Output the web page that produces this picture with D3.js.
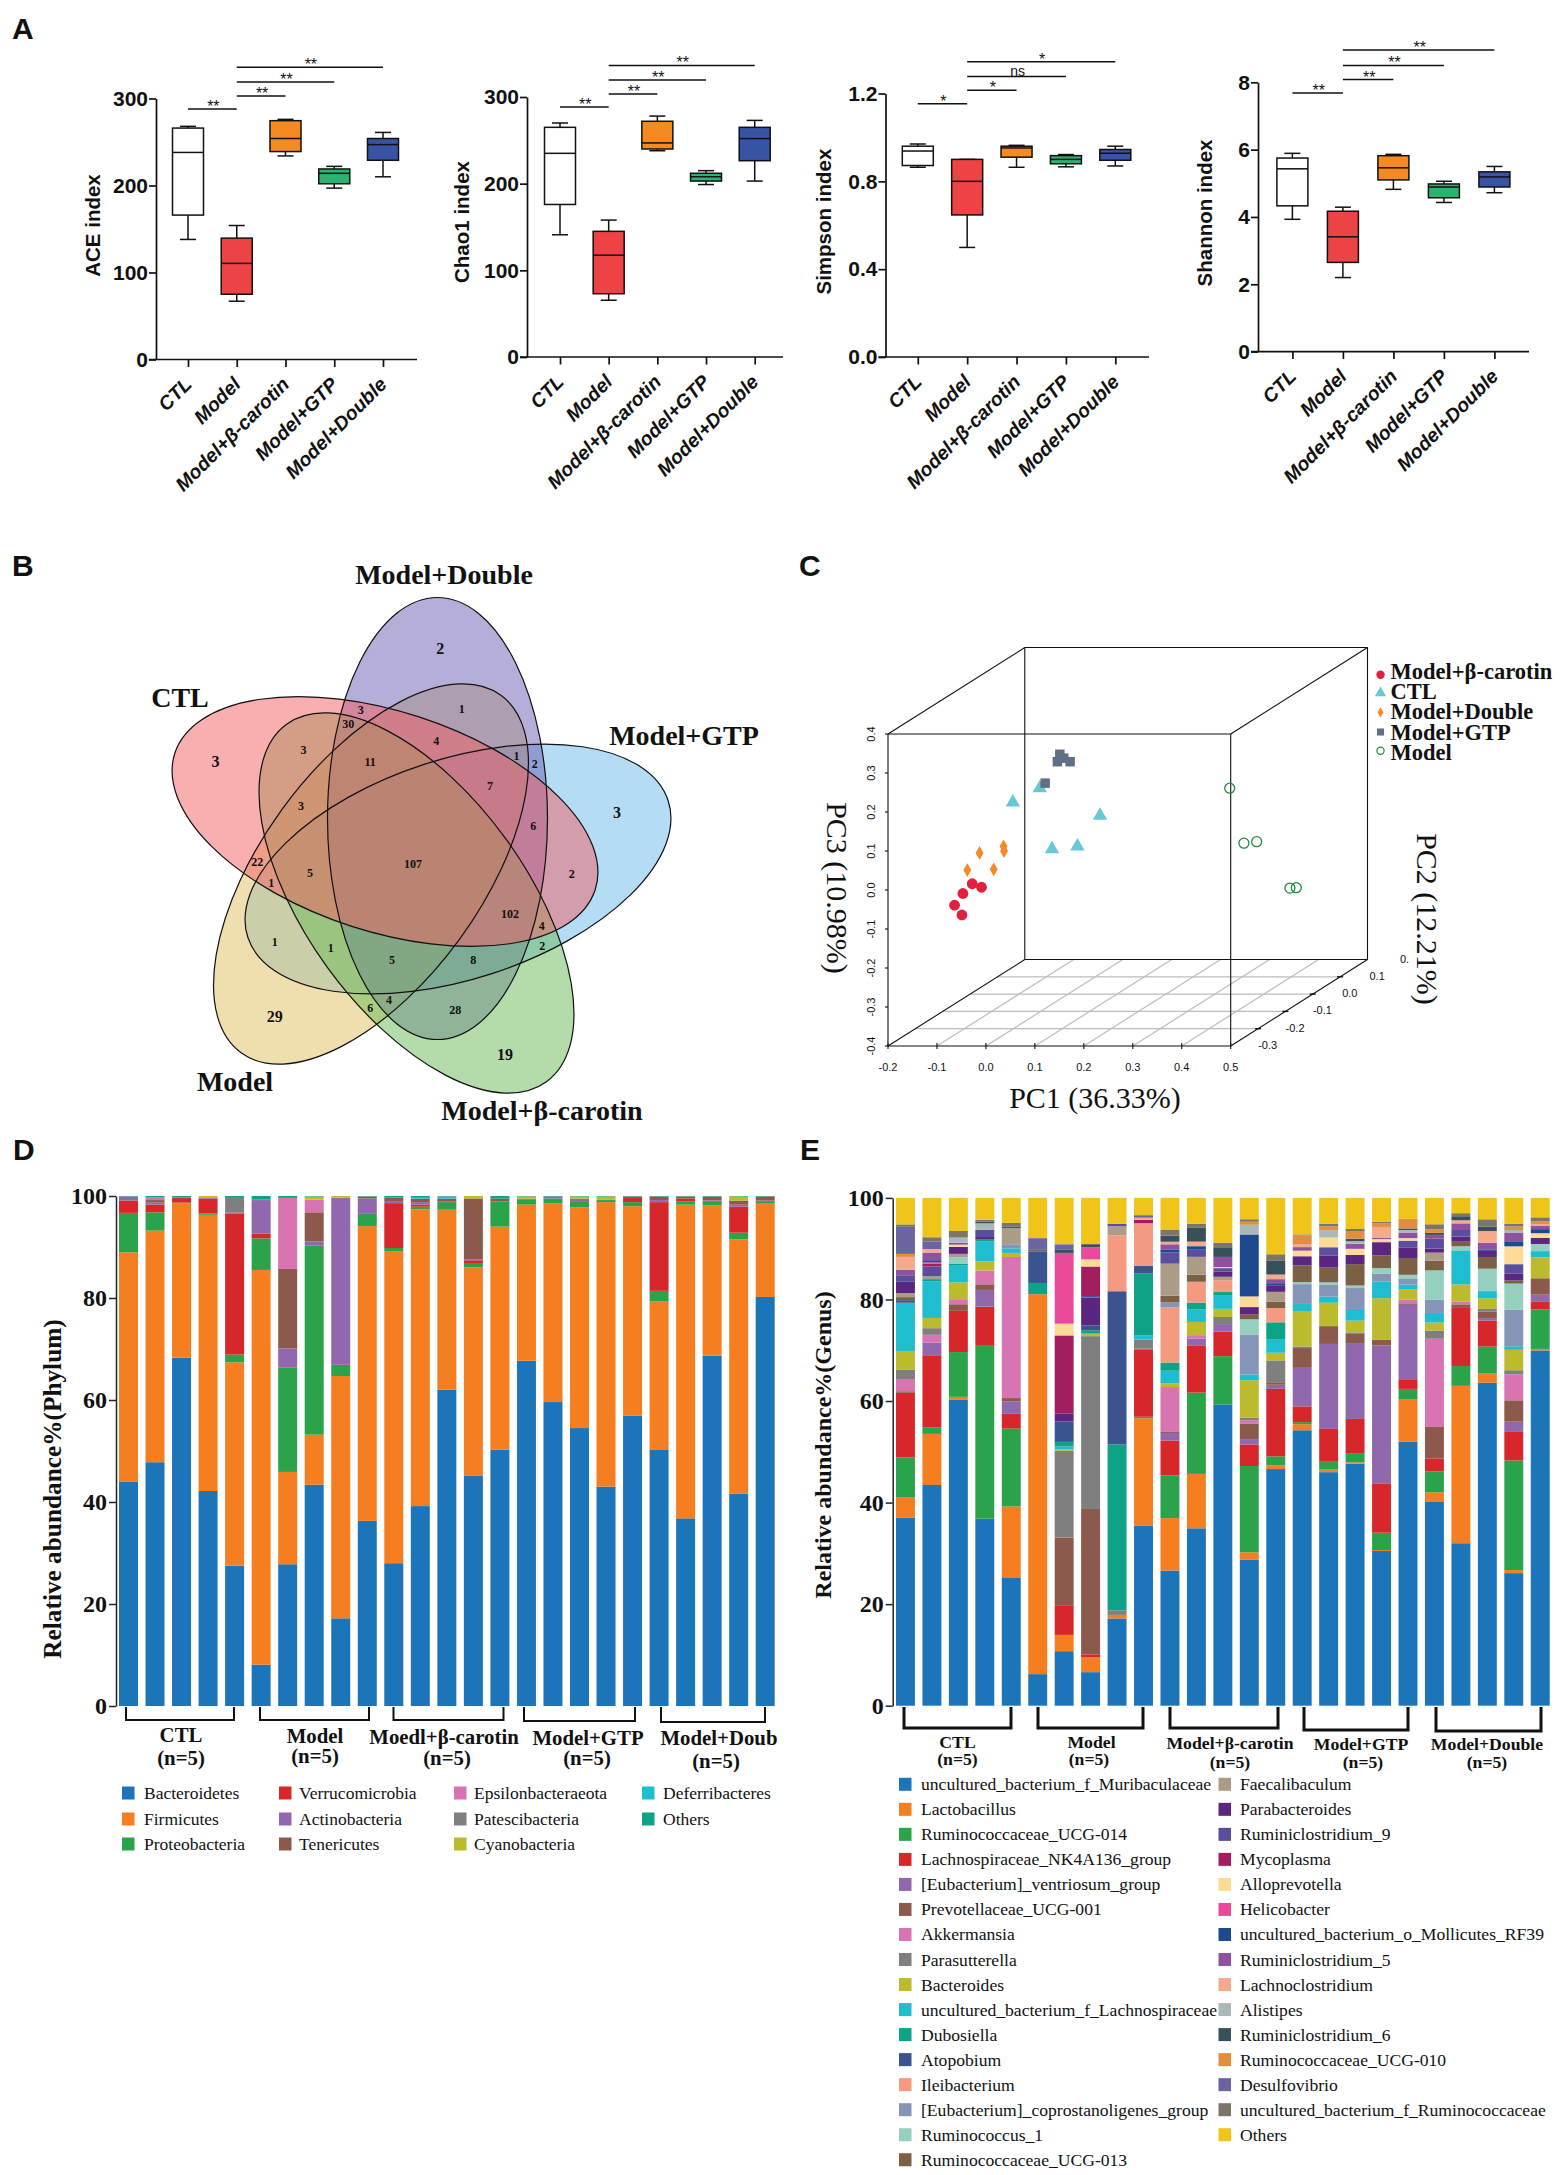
<!DOCTYPE html>
<html><head><meta charset="utf-8">
<script src="https://cdn.jsdelivr.net/npm/d3@7"></script>
<style>
html,body{margin:0;padding:0;background:#fff}
svg{display:block}
text{fill:#111}
</style></head><body>
<svg id="fig" width="1562" height="2175" xmlns="http://www.w3.org/2000/svg"></svg>
<script>
/* ---------- DATA ---------- */
const groups=["CTL","Model","Model+β-carotin","Model+GTP","Model+Double"];
// five-number summaries per group: [min,q1,median,q3,max]
const aceIndex=[[138,166,238,266,268],[67,75,110.5,139.5,154],[234,239,254,274.5,276],[197,202,214,219,222],[210,229,247,254,261]];
const chao1Index=[[141,176,235,265,270],[65.5,73,117.5,145,158],[238,240,247,272,278],[199,203,208,212,215],[203,226.5,252,265,273]];
const simpsonIndex=[[.864,.872,.938,.96,.97],[.499,.647,.80,.90,.90],[.864,.91,.952,.96,.964],[.866,.88,.90,.917,.922],[.87,.896,.928,.945,.96]];
const shannonIndex=[[3.93,4.33,5.43,5.75,5.89],[2.2,2.65,3.41,4.17,4.29],[4.82,5.1,5.46,5.82,5.86],[4.43,4.57,4.89,4.98,5.06],[4.72,4.89,5.19,5.34,5.5]];
const aceTicks=[0,100,200,300], chao1Ticks=[0,100,200,300], simpsonTicks=[0,.4,.8,1.2], shannonTicks=[0,2,4,6,8];
// significance bars: [from group, to group, height in axis units, mark]
const aceSig=[[0,1,288,"**"],[1,2,303,"**"],[1,3,319,"**"],[1,4,336,"**"]];
const chao1Sig=[[0,1,288.5,"**"],[1,2,303.5,"**"],[1,3,319.5,"**"],[1,4,336.4,"**"]];
const simpsonSig=[[0,1,1.153,"*"],[1,2,1.215,"*"],[1,3,1.277,"ns"],[1,4,1.345,"*"]];
const shannonSig=[[0,1,7.68,"**"],[1,2,8.08,"**"],[1,3,8.5,"**"],[1,4,8.96,"**"]];

const vennSets=["CTL","Model+Double","Model+GTP","Model+β-carotin","Model"];
const vennCounts=["2","1","3","30","3","3","4","11","1","2","7","3","3","6","107","22","5","1","2","102","4","2","1","1","5","8","4","6","28","29","19"];

const pcaBetaX=[-.064,-.047,-.049,-.028,-.009], pcaBetaZ=[-.039,-.009,-.064,.016,.007];
const pcaCtlX=[.055,.11,.233,.135,.187], pcaCtlZ=[.225,.261,.191,.105,.112];
const pcaDoubleX=[-.038,-.013,.016,.036,.037], pcaDoubleZ=[.051,.095,.053,.112,.10];
const pcaGtpX=[.121,.146,.151,.159,.172], pcaGtpZ=[.274,.329,.348,.338,.329];
const pcaModelX=[.498,.527,.553,.621,.634], pcaModelZ=[.261,.12,.124,.005,.006];
const pc1Ticks=[-.2,-.1,0,.1,.2,.3,.4,.5], pc3Ticks=[-.4,-.3,-.2,-.1,0,.1,.2,.3,.4], pc2Ticks=[-.3,-.2,-.1,0,.1,.2];

const phyla=["Bacteroidetes","Firmicutes","Proteobacteria","Verrucomicrobia","Actinobacteria","Tenericutes","Epsilonbacteraeota","Patescibacteria","Cyanobacteria","Deferribacteres","Others"];
const phylumCTL=[
[43.9,44.8,7.7,2.4,.7,.1,0,0,0,0,.1],
[47.8,45.4,3.6,1.5,.4,.5,.5,0,0,0,.3],
[68.3,30.3,.1,.9,.1,.1,0,0,0,0,.2],
[42.2,54.2,.3,2.9,.1,.1,0,0,.3,0,0],
[27.5,39.9,1.5,27.7,.1,.1,0,3.0,0,0,.2]];
const phylumModel=[
[8.1,77.4,6.2,.9,6.6,.1,0,0,0,0,.7],
[27.8,18.1,20.4,.1,3.7,15.6,13.9,.2,0,0,.2],
[43.4,9.8,37,.1,.8,5.7,2.5,0,.6,0,.1],
[17.2,47.5,2.2,0,32.7,0,.1,0,.3,0,0],
[36.3,57.8,2.4,0,3,.4,0,0,0,0,.1]];
const phylumBeta=[
[28,61.2,.6,8.8,.4,.7,0,0,0,0,.3],
[39.2,58.2,.5,.4,.5,.7,0,0,0,.3,.2],
[62,35.3,1.5,.1,0,.6,0,0,0,.4,.1],
[45.2,40.8,.7,.7,.2,11.9,0,0,.5,0,0],
[50.2,43.7,4.9,.1,0,.5,0,0,0,0,.5]];
const phylumGTP=[
[67.7,30.6,1,0,0,.2,0,0,.4,0,.1],
[59.6,39,.9,0,.3,.1,0,0,0,0,.1],
[54.5,43.3,1.2,0,.5,0,0,0,.4,0,.1],
[43,55.8,.4,0,0,.1,0,0,.6,0,.1],
[56.9,41.1,.8,.8,0,.3,0,0,0,0,.1]];
const phylumDouble=[
[50.2,29.1,2.1,17.4,.4,.7,0,0,0,0,.1],
[36.8,61.5,.6,.6,0,.4,0,0,0,0,.1],
[68.7,29.5,.8,.1,.1,.7,0,0,0,0,.1],
[41.6,49.9,1.3,5.1,.4,.8,0,0,.8,0,.1],
[80.2,18.3,.5,0,.1,.8,0,0,0,0,.1]];

const genera=["uncultured_bacterium_f_Muribaculaceae","Lactobacillus","Ruminococcaceae_UCG-014","Lachnospiraceae_NK4A136_group","[Eubacterium]_ventriosum_group","Prevotellaceae_UCG-001","Akkermansia","Parasutterella","Bacteroides","uncultured_bacterium_f_Lachnospiraceae","Dubosiella","Atopobium","Ileibacterium","[Eubacterium]_coprostanoligenes_group","Ruminococcus_1","Ruminococcaceae_UCG-013","Faecalibaculum","Parabacteroides","Ruminiclostridium_9","Mycoplasma","Alloprevotella","Helicobacter","uncultured_bacterium_o_Mollicutes_RF39","Ruminiclostridium_5","Lachnoclostridium","Alistipes","Ruminiclostridium_6","Ruminococcaceae_UCG-010","Desulfovibrio","uncultured_bacterium_f_Ruminococcaceae","Others"];
const genusCTL=[
[37,3.9,7.9,12.7,0,.3,2.4,1.8,3.7,9.5,0,.5,0,0,0,.6,.8,2.2,1.3,0,0,0,0,1.1,2.5,0,0,.6,5.3,.5,5.2],
[43.2,10,1.3,14.1,2.5,0,1.5,1.3,2,7.2,.4,0,0,0,0,0,.6,0,1.9,.5,0,.3,.4,1.5,.7,0,0,0,1.5,.8,7.7],
[60.1,.6,8.8,8.1,0,1.3,1,0,3.3,3.4,.3,0,0,0,1.2,0,.7,1.4,0,0,.4,0,0,.4,0,1,0,0,0,1.3,6.5],
[36.8,0,34,7.7,3.3,1.1,2.7,0,1.8,3.9,.4,0,0,0,0,0,0,.5,1.4,0,0,0,0,0,0,1.3,.3,0,0,.4,4.3],
[25.2,13.9,15.3,2.9,2.4,.7,27.7,0,.8,.9,0,0,0,.8,0,0,3.2,0,0,0,0,0,0,0,0,0,.3,0,0,.7,4.9]];
const genusModel=[
[6.2,74.6,0,0,0,0,0,0,0,0,2.2,6.2,0,0,0,.3,0,0,0,0,0,0,0,0,0,0,0,0,2.3,0,7.9],
[10.7,3.2,0,5.7,0,13.4,0,17.1,.2,.6,.9,4,0,0,0,0,0,1.6,0,15.3,2.3,13.9,0,0,0,0,.7,0,1,0,9.1],
[6.6,2.9,0,.6,0,28.6,0,34,.5,0,.6,1,0,0,0,0,0,5.5,.3,5.8,1.4,2.4,0,0,0,0,.6,0,0,0,9.1],
[17.2,.7,0,0,0,0,0,.9,0,0,32.7,30.2,11,0,0,0,1.8,0,.5,0,0,0,0,0,0,0,0,0,0,0,5.1],
[35.4,21.2,.3,13.2,0,.2,0,1.8,0,.8,12.2,1.5,8.4,0,0,0,0,0,0,.7,0,0,0,0,.4,0,0,0,.5,0,3.4]];
const genusBeta=[
[26.5,10.3,8.4,6.8,1.5,.3,8.7,0,.7,2.5,1.6,0,10.8,1,0,1.3,6.3,0,2.2,0,0,0,.6,1,.5,0,1.2,0,0,1.2,6.2],
[34.9,10.7,16,9.3,1.3,0,.7,0,2.6,2.5,1.3,0,4.1,0,0,1.4,3.5,0,1.4,0,0,0,.7,0,.9,0,2.8,0,0,.7,5.1],
[59.2,0,9.5,4.8,1.5,0,0,1.4,1.6,2.7,.6,0,2.3,0,0,0,.7,1,.7,0,.2,0,0,2,0,0,1.9,0,0,.9,8.8],
[28.8,1.4,17,4.2,1.1,3,.7,.5,7.4,1.1,0,0,0,7.9,3,1,0,1.4,0,0,2.1,0,12.2,0,0,1.9,0,.6,0,.5,4.2],
[46.6,.7,1.8,13.3,.8,.5,0,4.3,1.5,2.7,3.3,0,2.8,0,0,1.3,1.9,1.2,0,0,0,0,.5,.8,.9,0,2.7,0,0,1.3,11.1]];
const genusGTP=[
[54.3,1.2,.4,3.1,7.6,3.9,0,.3,7,1.4,0,0,0,3.9,.4,3.3,0,1.8,0,0,1.1,0,0,.7,.5,0,0,1.8,0,.2,7.2],
[45.9,.5,1.7,6.3,16.7,3.5,0,0,4.6,1.2,0,0,0,2.3,.5,2.9,0,2.4,1.6,0,1.9,0,0,0,0,1.5,0,.7,0,.5,5.1],
[47.5,.3,1.8,6.7,14.9,1.8,0,.3,2.3,2.3,0,0,0,4.1,.5,4.2,0,1.8,0,0,1.2,0,0,1,0,.5,.5,1.4,0,.5,6.1],
[30.4,.2,3.4,9.7,27.1,1.1,0,0,8.2,3.3,0,0,0,1.5,1.1,2.5,0,2.6,0,0,.6,0,0,.3,1.9,.2,0,.7,0,.3,4.7],
[51.8,8.3,2.1,1.9,14.6,.3,.7,0,2.1,.9,0,0,0,1.2,.7,3.3,0,2,1.4,0,.5,0,0,1.1,0,.5,.3,1.9,0,0,4.1]];
const genusDouble=[
[40.2,1.9,4.1,2.6,0,6.2,17.4,1.6,1.6,1.9,0,0,0,2.6,5.8,1.9,1.6,.8,2,0,0,0,0,.7,0,0,.4,.7,0,1,5.2],
[31.9,30.9,3.9,11.4,0,.7,.5,0,3.4,6.7,0,0,0,0,.8,.9,0,1,1.3,0,0,0,0,1.3,.6,0,.8,0,0,.6,3],
[63.4,1.8,5.3,5.1,.5,1.3,0,.5,2.1,1.4,0,0,0,0,4.4,2.3,0,1.2,0,0,0,0,.3,1.3,2.3,0,.9,0,0,1.4,4.2],
[26,.6,21.5,5.6,2,4.2,5.1,.8,4,.7,0,0,0,7.2,5.1,.6,0,1.4,1.8,0,3.5,0,1,1.7,0,.5,0,.7,0,.5,5.1],
[69.4,.3,7.7,1.6,1.3,3.2,0,0,4.1,1.2,0,0,0,0,1.4,0,0,1.2,0,0,.9,0,.8,.7,.3,0,0,.5,0,.8,3.8]];
const stackTicks=[0,.2,.4,.6,.8,1];
const phylumGroupLabels=["CTL","Model","Moedl+β-carotin","Model+GTP","Model+Doub"];
const genusGroupLabels=["CTL","Model","Model+β-carotin","Model+GTP","Model+Double"];

/* ---------- STYLES ---------- */
const SANS="'Liberation Sans',Arial,sans-serif", SERIF="'Liberation Serif','Times New Roman',serif";
const boxColors=["#ffffff","#ee4344","#f68a22","#2db272","#3953a4"];
const phylumColors=["#1c75b8","#f57f20","#2ba34a","#d8272b","#9167ad","#8b5a4c","#d874b2","#7f7f7f","#bcbb2e","#1fbdd0","#0ea287"];
const genusColors=["#1c75b8","#f57f20","#2ba34a","#d8272b","#9167ad","#8b5a4c","#d874b2","#7f7f7f","#bcbb2e","#1fbdd0","#0ea287","#3a5490","#f39a80","#8694b8","#94cfbf","#7c6045","#ac9c87","#5a2680","#5b4e9e","#a21e5e","#fcdc94","#e94b9a","#1c4a8e","#8f52a0","#f5a98e","#aab8b8","#37505a","#e38e3f","#6a64a0","#7d7668","#f0c419"];
const svg=d3.select("#fig");
function label(g,x,y,t,o={}){
  const e=g.append("text").attr("x",x).attr("y",y).text(t)
   .attr("font-family",o.family||SERIF).attr("font-size",o.size||16)
   .attr("font-weight",o.weight||"normal").attr("font-style",o.style||"normal")
   .attr("text-anchor",o.anchor||"middle").attr("dominant-baseline",o.base||"central");
  if(o.rotate!==undefined) e.attr("transform",`rotate(${o.rotate},${x},${y})`);
  return e;
}
[["A",12,28],["B",12,565],["C",799,565],["D",13,1149],["E",800,1149]].forEach(d=>
  label(svg,d[1],d[2],d[0],{family:SANS,size:30,weight:"bold",anchor:"start"}));

/* ---------- PANEL A ---------- */
const boxPanels=[
 {stats:aceIndex,ticks:aceTicks,sig:aceSig,title:"ACE index",fmt:d3.format("d"),ax:156,y0:359.5,y1:98.5,t0:188,t1:383,xl:148.8,xr:417,tx:92,ty:225.5},
 {stats:chao1Index,ticks:chao1Ticks,sig:chao1Sig,title:"Chao1 index",fmt:d3.format("d"),ax:527,y0:357,y1:97,t0:560,t1:754.7,xl:520,xr:783,tx:461,ty:222},
 {stats:simpsonIndex,ticks:simpsonTicks,sig:simpsonSig,title:"Simpson index",fmt:d3.format(".1f"),ax:885.5,y0:357,y1:93.5,t0:917.8,t1:1115.3,xl:878.5,xr:1149,tx:824,ty:221.6},
 {stats:shannonIndex,ticks:shannonTicks,sig:shannonSig,title:"Shannon index",fmt:d3.format("d"),ax:1258,y0:351.6,y1:82.3,t0:1292.4,t1:1494.4,xl:1251,xr:1529,tx:1204,ty:213}
];
boxPanels.forEach(p=>{
  const g=svg.append("g");
  const y=d3.scaleLinear().domain(d3.extent(p.ticks)).range([p.y0,p.y1]);
  const x=d3.scalePoint().domain(groups).range([p.t0,p.t1]);
  const ya=g.append("g").attr("transform",`translate(${p.ax},0)`).call(d3.axisLeft(y).tickValues(p.ticks).tickFormat(p.fmt).tickSize(7).tickSizeOuter(0));
  ya.selectAll("path,line").attr("stroke","#111").attr("stroke-width",1.7);
  ya.selectAll("text").attr("font-family",SANS).attr("font-size",21).attr("font-weight","bold").attr("fill","#111").attr("x",-8);
  const xa=g.append("g").attr("transform",`translate(0,${p.y0})`).call(d3.axisBottom(x).tickSize(7.5).tickSizeOuter(0));
  xa.select("path").remove();
  xa.selectAll("line").attr("stroke","#111").attr("stroke-width",1.7);
  xa.selectAll("text").attr("font-family",SANS).attr("font-size",19.5).attr("font-weight","bold").attr("font-style","italic").attr("fill","#111")
    .attr("text-anchor","end").attr("x",0).attr("y",0).attr("dy",0).attr("transform","translate(4.5,26) rotate(-45)");
  g.append("line").attr("x1",p.xl).attr("x2",p.xr).attr("y1",p.y0).attr("y2",p.y0).attr("stroke","#111").attr("stroke-width",1.7);
  label(g,p.tx,p.ty,p.title,{family:SANS,size:20.5,weight:"bold",rotate:-90});
  const bw=31;
  const b=g.selectAll("g.box").data(p.stats).join("g").attr("class","box").attr("transform",(d,i)=>`translate(${x(groups[i])},0)`);
  b.append("line").attr("y1",d=>y(d[0])).attr("y2",d=>y(d[4])).attr("stroke","#111").attr("stroke-width",1.5);
  [0,4].forEach(k=>b.append("line").attr("x1",-8).attr("x2",8).attr("y1",d=>y(d[k])).attr("y2",d=>y(d[k])).attr("stroke","#111").attr("stroke-width",1.5));
  b.append("rect").attr("x",-bw/2).attr("width",bw).attr("y",d=>y(d[3])).attr("height",d=>y(d[1])-y(d[3]))
    .attr("fill",(d,i)=>boxColors[i]).attr("stroke","#111").attr("stroke-width",1.5);
  b.append("line").attr("x1",-bw/2).attr("x2",bw/2).attr("y1",d=>y(d[2])).attr("y2",d=>y(d[2])).attr("stroke","#111").attr("stroke-width",1.5);
  p.sig.forEach(s=>{
    const xa0=x(groups[s[0]]),xb=x(groups[s[1]]),yy=y(s[2]);
    g.append("line").attr("x1",xa0).attr("x2",xb).attr("y1",yy).attr("y2",yy).attr("stroke","#111").attr("stroke-width",1.5);
    const ns=s[3]==="ns";
    label(g,(xa0+xb)/2+1,yy+(ns?-6:3),s[3],{family:SANS,size:ns?14:16,base:ns?"central":"auto"});
  });
});

/* ---------- PANEL B ---------- */
const vennShapes=[ // cx,cy,rotation,fill — painted in this order
 {cx:458,cy:869,r:-18,fill:"#6bb9eb"},
 {cx:371,cy:874,r:-54,fill:"#dfbf5d"},
 {cx:437.5,cy:818.5,r:90,fill:"#6b5db4"},
 {cx:416.5,cy:903,r:54,fill:"#69b957"},
 {cx:385,cy:821.5,r:18,fill:"#f35d61"}
];
const vennG=svg.append("g");
vennG.selectAll("ellipse.f").data(vennShapes).join("ellipse").attr("class","f")
  .attr("cx",d=>d.cx).attr("cy",d=>d.cy).attr("rx",221).attr("ry",110)
  .attr("transform",d=>`rotate(${d.r},${d.cx},${d.cy})`)
  .attr("fill",d=>d.fill).attr("fill-opacity",.5);
vennG.selectAll("ellipse.o").data(vennShapes).join("ellipse").attr("class","o")
  .attr("cx",d=>d.cx).attr("cy",d=>d.cy).attr("rx",221).attr("ry",110)
  .attr("transform",d=>`rotate(${d.r},${d.cx},${d.cy})`)
  .attr("fill","none").attr("stroke","#111").attr("stroke-width",1.2);
const vennSpots=[[885,288,1],[928,450],[725,452],[700,490],[610,557],[433,590,1],[877,535],[744,590],[1038,575],[1075,595],[985,655],[605,707],[1240,723,1],[1072,760],[830,860],[517,856],[623,884],[545,911],[1149,887],[1025,993],[1089,1025],[1090,1078],[552,1069],[665,1084],[788,1116],[951,1116],[782,1224],[744,1243],[915,1250],[552,1267,1],[1015,1367,1]];
vennSpots.forEach((s,i)=>label(vennG,s[0]/2.01,540+s[1]/2.658,vennCounts[i],{size:s[2]?16:12,weight:"bold"}));
const vennLabelSpots=[[180,697],[444,574.6],[684,735.6],[542,1110.7],[235,1081]];
vennSets.forEach((t,i)=>label(vennG,vennLabelSpots[i][0],vennLabelSpots[i][1],t,{size:28,weight:"bold"}));

/* ---------- PANEL C ---------- */
const cG=svg.append("g");
const sx=d3.scaleLinear().domain([-.2,.5]).range([888,1230.7]);
const sz=d3.scaleLinear().domain([-.4,.4]).range([1046,734]);
const sd=d3.scaleLinear().domain([-.3,.2]).range([0,1]);
const DX=136.8,DY=86.5;
const P=(a,b,c)=>[sx(a)+sd(b)*DX,sz(c)-sd(b)*DY];
const seg=(p,q,col,w)=>cG.append("line").attr("x1",p[0]).attr("y1",p[1]).attr("x2",q[0]).attr("y2",q[1]).attr("stroke",col).attr("stroke-width",w);
pc2Ticks.slice(1,-1).forEach(v=>seg(P(-.2,v,-.4),P(.5,v,-.4),"#bdbdbd",1.2));
pc1Ticks.slice(1,-1).forEach(v=>seg(P(v,-.3,-.4),P(v,.2,-.4),"#bdbdbd",1.2));
[[-.2,-.3,.4,.5,-.3,.4],[.5,-.3,.4,.5,-.3,-.4],[.5,-.3,-.4,-.2,-.3,-.4],[-.2,-.3,-.4,-.2,-.3,.4],
 [-.2,.2,.4,.5,.2,.4],[.5,.2,.4,.5,.2,-.4],[.5,.2,-.4,-.2,.2,-.4],[-.2,.2,-.4,-.2,.2,.4],
 [-.2,-.3,.4,-.2,.2,.4],[.5,-.3,.4,.5,.2,.4],[.5,-.3,-.4,.5,.2,-.4],[-.2,-.3,-.4,-.2,.2,-.4]]
 .forEach(d=>seg(P(d[0],d[1],d[2]),P(d[3],d[4],d[5]),"#111",1.1));
pc1Ticks.forEach(v=>{
  const p=P(v,-.3,-.4);
  seg([p[0],p[1]-3],[p[0],p[1]+3],"#111",1.1);
  label(cG,p[0],1066.7,v.toFixed(1),{family:SANS,size:11});
});
pc3Ticks.forEach(v=>{
  const p=P(-.2,-.3,v);
  seg([p[0]-3,p[1]],[p[0],p[1]],"#111",1.1);
  label(cG,871,p[1],v.toFixed(1),{family:SANS,size:11,rotate:-90});
});
pc2Ticks.forEach(v=>{
  const p=P(.5,v,-.4);
  if(v>-.3&&v<.2) seg([p[0]-3,p[1]],[p[0]+3,p[1]],"#111",1.4);
  label(cG,p[0]+37,p[1]-1,v===.2?"0.":v.toFixed(1),{family:SANS,size:11});
});
const pts=(xs,zs)=>xs.map((v,i)=>P(v,-.3,zs[i]));
cG.append("g").selectAll("circle").data(pts(pcaBetaX,pcaBetaZ)).join("circle").attr("cx",d=>d[0]).attr("cy",d=>d[1]).attr("r",5.4).attr("fill","#e0203c");
const sym=(type,size,data,col)=>cG.append("g").selectAll("path").data(data).join("path").attr("d",d3.symbol().type(type).size(size)).attr("transform",d=>`translate(${d[0]},${d[1]})`).attr("fill",col);
sym(d3.symbolTriangle,90,pts(pcaCtlX,pcaCtlZ),"#67c8d8");
sym(d3.symbolDiamond,55,pts(pcaDoubleX,pcaDoubleZ),"#f58a24");
sym(d3.symbolSquare,90,pts(pcaGtpX,pcaGtpZ),"#5f6f86");
cG.append("g").selectAll("circle").data(pts(pcaModelX,pcaModelZ)).join("circle").attr("cx",d=>d[0]).attr("cy",d=>d[1]).attr("r",5).attr("fill","none").attr("stroke","#1f8a3c").attr("stroke-width",1.3);
const pcaLegend=["Model+β-carotin","CTL","Model+Double","Model+GTP","Model"];
const pcaLegendY=[671,691.6,711,732,752];
pcaLegend.forEach((t,i)=>label(cG,1390.5,pcaLegendY[i],t,{size:22.5,weight:"bold",anchor:"start"}));
cG.append("circle").attr("cx",1380.5).attr("cy",674.7).attr("r",4.2).attr("fill","#e0203c");
cG.append("path").attr("d",d3.symbol().type(d3.symbolTriangle).size(55)).attr("transform","translate(1380.5,693)").attr("fill","#67c8d8");
cG.append("path").attr("d",d3.symbol().type(d3.symbolDiamond).size(30)).attr("transform","translate(1380.5,712.3)").attr("fill","#f58a24");
cG.append("path").attr("d",d3.symbol().type(d3.symbolSquare).size(50)).attr("transform","translate(1380.5,732)").attr("fill","#5f6f86");
cG.append("circle").attr("cx",1380.5).attr("cy",750.7).attr("r",3.6).attr("fill","none").attr("stroke","#1f8a3c").attr("stroke-width",1.2);
label(cG,1095,1097,"PC1 (36.33%)",{size:30});
label(cG,837,888,"PC3 (10.98%)",{size:30,rotate:90});
label(cG,1427,919,"PC2 (12.21%)",{size:30,rotate:90});

/* ---------- PANELS D, E ---------- */
function stacked(o){
  const g=svg.append("g");
  const rows=[].concat(...o.groups);
  const y=d3.scaleLinear().domain([0,1]).range([o.y0,o.y1]);
  const x=d3.scaleBand().domain(d3.range(rows.length)).range([o.x0,o.x1]).paddingInner(.284).paddingOuter(0);
  const series=d3.stack().keys(d3.range(o.names.length)).value((r,k)=>r[k]).offset(d3.stackOffsetExpand)(rows);
  g.selectAll("g.s").data(series).join("g").attr("class","s").attr("fill",(d,i)=>o.colors[i])
   .selectAll("rect").data(d=>d.map((v,i)=>({v,i}))).join("rect")
   .attr("x",d=>x(d.i)).attr("width",x.bandwidth())
   .attr("y",d=>y(d.v[1])).attr("height",d=>Math.max(0,y(d.v[0])-y(d.v[1])));
  const a=g.append("g").attr("transform",`translate(${o.ax},0)`).call(d3.axisLeft(y).tickValues(stackTicks).tickFormat(d=>Math.round(d*100)).tickSize(7).tickSizeOuter(0));
  a.selectAll("path,line").attr("stroke","#222").attr("stroke-width",1.5);
  a.selectAll("text").attr("font-family",SERIF).attr("font-size",24).attr("font-weight","bold").attr("fill","#111").attr("x",-9);
  label(g,o.tx,o.ty,o.title,{size:o.tsize,weight:"bold",rotate:-90});
  o.brackets.forEach((b,i)=>{
    g.append("path").attr("d",d3.line()([[b[0],o.bt],[b[0],b[2]],[b[1],b[2]],[b[1],o.bt]])).attr("fill","none").attr("stroke","#111").attr("stroke-width",o.bw);
    const l=o.labels[i];
    label(g,l[0],l[1],o.groupLabels[i],{size:o.lsize,weight:"bold"});
    label(g,l[2],l[3],"(n=5)",{size:o.lsize,weight:"bold"});
  });
  return g;
}
const dG=stacked({groups:[phylumCTL,phylumModel,phylumBeta,phylumGTP,phylumDouble],names:phyla,colors:phylumColors,
 y0:1706,y1:1196,x0:119,x1:774.7,ax:116,tx:52,ty:1489,title:"Relative abundance%(Phylum)",tsize:25.3,
 brackets:[[126,234,1720],[260,369,1720],[393.5,503.5,1720],[524,635,1721],[661,765,1722]],bt:1707,bw:2,
 labels:[[181,1734,181,1757],[315,1735,315,1755],[444,1736,447,1757],[588,1737,587,1757],[719,1737,716,1760]],groupLabels:phylumGroupLabels,lsize:20.8});
const dRows=[1793,1819,1844], dCols=[[122,144],[279,299],[454,474],[642,663]];
phyla.forEach((t,i)=>{
  const c=Math.floor(i/3), r=i%3;
  dG.append("rect").attr("x",dCols[c][0]).attr("y",dRows[r]-6.5).attr("width",12.5).attr("height",13).attr("fill",phylumColors[i]);
  label(dG,dCols[c][1],dRows[r],t,{size:17.5,anchor:"start"});
});
const eG=stacked({groups:[genusCTL,genusModel,genusBeta,genusGTP,genusDouble],names:genera,colors:genusColors,
 y0:1705.7,y1:1197.9,x0:896,x1:1549.7,ax:892.7,tx:823,ty:1445,title:"Relative abundance%(Genus)",tsize:24,
 brackets:[[904,1011,1728],[1038,1143,1728],[1170,1278,1728],[1304,1408,1730],[1436,1541,1731]],bt:1707,bw:3,
 labels:[[957.5,1742,957.5,1759],[1091.5,1742,1089,1759],[1230,1743,1230,1762],[1361,1744,1363,1762],[1487,1744,1487,1762]],groupLabels:genusGroupLabels,lsize:17.7});
const eCols=[[899,921],[1218.5,1240]];
genera.forEach((t,i)=>{
  const c=i<16?0:1, r=i<16?i:i-16, yy=1784.3+r*25.03;
  eG.append("rect").attr("x",eCols[c][0]).attr("y",yy-6.5).attr("width",12.5).attr("height",13).attr("fill",genusColors[i]);
  label(eG,eCols[c][1],yy,t,{size:17.6,anchor:"start"});
});
</script>
</body></html>
